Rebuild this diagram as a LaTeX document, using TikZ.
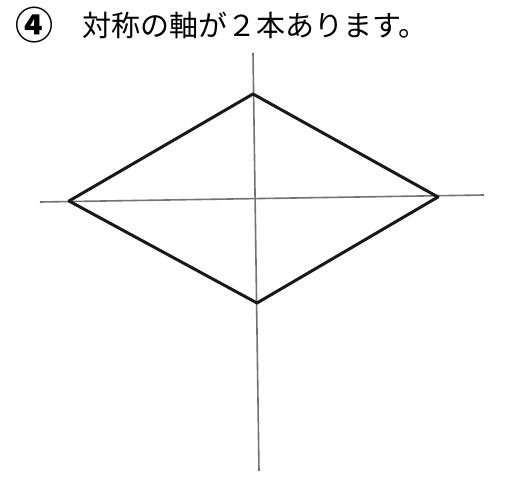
\documentclass[tikz,border=0pt]{standalone}
\usepackage{fontspec}
\newfontfamily\cjk{Noto Sans CJK JP}
\begin{document}
\begin{tikzpicture}[x=1pt,y=-1pt,
  axisline/.style={draw=black!55,line width=1.6pt},
  edge/.style={draw=black!90,line width=3pt,line join=round,line cap=round},
  label/.style={font=\cjk\fontsize{29}{29}\selectfont,inner sep=0pt,anchor=west}]
\useasboundingbox (0,0) rectangle (506,478);
\node[label,font=\cjk\bfseries\fontsize{38}{38}\selectfont,anchor=center] (num) at (34,25) {④};
\node[label] (title) at (82,25) {対称の軸が２本あります。};
\coordinate (T) at (253,94);
\coordinate (L) at (69,201);
\coordinate (R) at (438,197);
\coordinate (B) at (257,303);
\coordinate (vtop) at (253,53);
\coordinate (vbot) at (259,471);
\coordinate (hl) at (40,202);
\coordinate (hr) at (484,195);
\draw[axisline] (vtop) -- (vbot);
\draw[axisline] (hl) -- (hr);
\draw[edge] (T) -- (R) -- (B) -- (L) -- cycle;
\end{tikzpicture}
\end{document}
